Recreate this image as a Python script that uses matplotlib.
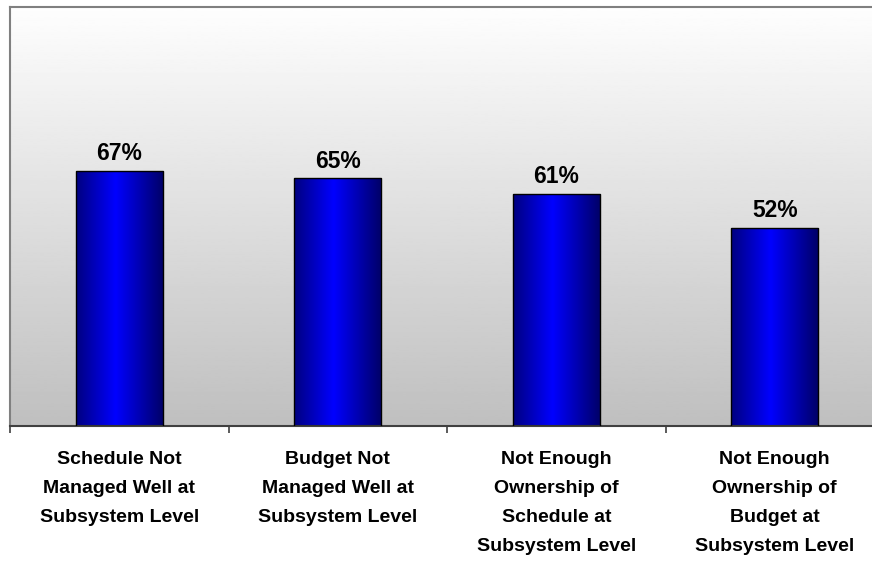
import numpy as np
import matplotlib
matplotlib.use("Agg")
import matplotlib.pyplot as plt
from matplotlib.colors import LinearSegmentedColormap

categories = [
    "Schedule Not\nManaged Well at\nSubsystem Level",
    "Budget Not\nManaged Well at\nSubsystem Level",
    "Not Enough\nOwnership of\nSchedule at\nSubsystem Level",
    "Not Enough\nOwnership of\nBudget at\nSubsystem Level",
]
values = [67, 65, 61, 52]

plt.rcParams["font.family"] = ["Liberation Sans", "DejaVu Sans"]

fig = plt.figure(figsize=(8.72, 5.61), dpi=100)
ax = fig.add_axes([10 / 872, (561 - 426) / 561, 874 / 872, (426 - 7) / 561])

x = np.arange(len(values))
ax.set_xlim(-0.5, len(values) - 0.5)
ax.set_ylim(0, 110)

# vertical background gradient: white at the top, silver at the bottom
bg = np.linspace(0.75, 0.995, 256).reshape(-1, 1)
ax.imshow(bg, cmap="gray", vmin=0, vmax=1, aspect="auto", origin="lower",
          extent=(-0.5, len(values) - 0.5, 0, 110), zorder=0)

# bars with a horizontal blue shading
bar_cmap = LinearSegmentedColormap.from_list(
    "bluebar", [(0.0, (0, 0, 0.50)), (0.45, (0, 0, 1.0)), (1.0, (0, 0, 0.40))])
bars = ax.bar(x, values, width=0.4, color="none", edgecolor="black",
              linewidth=1.0, zorder=3)
grad = np.linspace(0, 1, 256).reshape(1, -1)
for b in bars:
    x0, w, h = b.get_x(), b.get_width(), b.get_height()
    im = ax.imshow(grad, cmap=bar_cmap, aspect="auto", origin="lower",
                   extent=(x0, x0 + w, 0, h), zorder=2)
    im.set_clip_path(b)
    ax.annotate(f"{h:.0f}%", (x0 + w / 2, h), xytext=(0, 4),
                textcoords="offset points", ha="center", va="bottom",
                fontsize=16.5, fontweight="bold", color="black", zorder=4)

# category labels centred under the bars, tick marks on the boundaries
ax.set_xticks(x)
ax.set_xticklabels(categories, fontsize=14, fontweight="bold",
                   linespacing=1.92)
ax.tick_params(axis="x", which="major", length=0, pad=18)
ax.set_xticks(np.arange(-0.5, len(values) + 0.5, 1), minor=True)
ax.tick_params(axis="x", which="minor", length=5, width=1.2, color="#404040",
               direction="out")
ax.set_yticks([])

for side in ("left", "top"):
    ax.spines[side].set_color("#808080")
    ax.spines[side].set_linewidth(1.5)
ax.spines["right"].set_visible(False)
ax.spines["bottom"].set_color("#404040")
ax.spines["bottom"].set_linewidth(1.5)

fig.savefig("out.png", dpi=100)
